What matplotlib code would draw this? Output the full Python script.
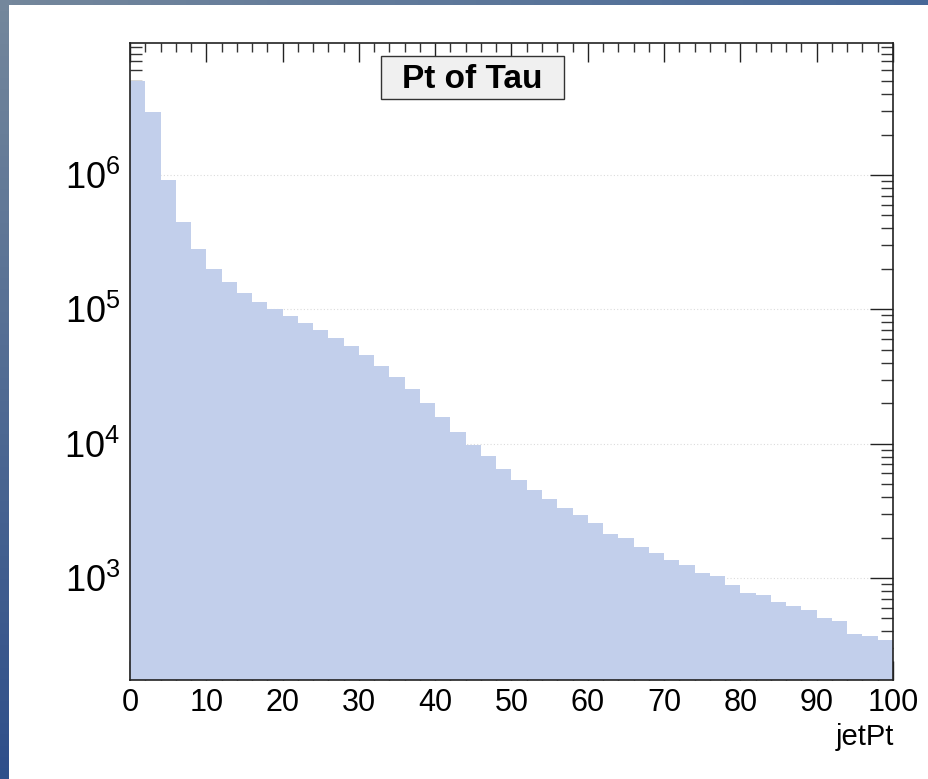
import numpy as np
import matplotlib.pyplot as plt
from matplotlib.patches import Rectangle
from matplotlib.ticker import FixedLocator, FixedFormatter, MultipleLocator, NullFormatter

plt.rcParams['mathtext.fontset'] = 'custom'
plt.rcParams['mathtext.rm'] = 'Liberation Sans Narrow'
plt.rcParams['font.family'] = ['Liberation Sans Narrow', 'Liberation Sans', 'DejaVu Sans']

# histogram of jetPt, 50 bins of width 2 from 0 to 100
bin_edges = np.arange(0, 102, 2)
counts = [5.0e6, 2.94e6, 9.2e5, 4.45e5, 2.8e5, 2.0e5, 1.6e5, 1.33e5, 1.14e5, 1.0e5,
          8.87e4, 7.94e4, 7.0e4, 6.13e4, 5.35e4, 4.54e4, 3.8e4, 3.15e4, 2.53e4, 2.01e4,
          1.58e4, 1.23e4, 9.8e3, 8.14e3, 6.52e3, 5.37e3, 4.53e3, 3.88e3, 3.33e3, 2.93e3,
          2.57e3, 2.14e3, 1.97e3, 1.70e3, 1.53e3, 1.37e3, 1.25e3, 1.08e3, 1.03e3, 892,
          773, 743, 659, 616, 582, 501, 479, 382, 369, 348]

x_ticks = [0, 10, 20, 30, 40, 50, 60, 70, 80, 90, 100]
y_ticks = [1e3, 1e4, 1e5, 1e6]
y_labels = [r'$\mathregular{10^{3}}$', r'$\mathregular{10^{4}}$',
            r'$\mathregular{10^{5}}$', r'$\mathregular{10^{6}}$']

W, H = 929, 779
fig = plt.figure(figsize=(W / 100, H / 100), dpi=100)

# slide-like gradient frame behind the canvas
bg = fig.add_axes([0, 0, 1, 1])
bg.set_axis_off()
U, V = np.meshgrid(np.linspace(0, 1, 80), np.linspace(0, 1, 70))
c0 = np.array([0x74, 0x87, 0x9c]) / 255
cr = np.array([0x47, 0x68, 0x98]) / 255
cb = np.array([0x2e, 0x4f, 0x8a]) / 255
grad = c0 + (cr - c0) * U[..., None] + (cb - c0) * V[..., None]
bg.imshow(np.clip(grad, 0, 1), extent=[0, 1, 0, 1], aspect='auto', origin='upper')
bg.add_patch(Rectangle((9 / W, 0), 1 - 9 / W, 1 - 5 / H, color='white', lw=0))
bg.set_xlim(0, 1)
bg.set_ylim(0, 1)

ax = fig.add_axes([130 / W, 99 / H, 763 / W, 637 / H])
ax.set_yscale('log')
ax.stairs(counts, bin_edges, fill=True, color='#c2cfeb', baseline=1, zorder=2, lw=0)
ax.set_xlim(0, 100)
ax.set_ylim(174, 9.6e6)

# faint dotted grid at decades
for yv in y_ticks:
    ax.axhline(yv, color='#dcdcdc', lw=0.8, ls=(0, (1, 2)), zorder=1)

ax.xaxis.set_major_locator(FixedLocator(x_ticks))
ax.xaxis.set_minor_locator(MultipleLocator(2))
ax.yaxis.set_major_locator(FixedLocator(y_ticks))
ax.yaxis.set_major_formatter(FixedFormatter(y_labels))
minor_y = [m * 10 ** e for e in range(2, 7) for m in range(2, 10)]
ax.yaxis.set_minor_locator(FixedLocator(minor_y))
ax.yaxis.set_minor_formatter(NullFormatter())

ax.tick_params(axis='x', which='major', direction='in', length=13.5, width=1,
               top=True, bottom=True, labelsize=22, pad=6, color='#222222')
ax.tick_params(axis='x', which='minor', direction='in', length=6.5, width=1,
               top=True, bottom=True, color='#333333')
ax.tick_params(axis='y', which='major', direction='in', length=16.5, width=1,
               left=True, right=True, labelsize=26, pad=7, color='#222222')
ax.tick_params(axis='y', which='minor', direction='in', length=8.5, width=1,
               left=True, right=True, color='#333333')
for s in ax.spines.values():
    s.set_linewidth(1.2)
    s.set_color('#222222')
    s.set_zorder(5)

# title box
fig.add_artist(Rectangle((381 / W, 1 - 99 / H), 183 / W, 43 / H, transform=fig.transFigure,
                         facecolor='#f0f0f0', edgecolor='#333333', lw=1, zorder=10))
fig.text(472.5 / W, 1 - 88 / H, 'Pt of Tau', ha='center', va='baseline', fontsize=24,
         fontweight='bold', family=['Liberation Sans', 'DejaVu Sans'], zorder=11)

fig.text(894 / W, 1 - 745 / H, 'jetPt', ha='right', va='baseline', fontsize=21,
         family=['Liberation Sans', 'DejaVu Sans'])

fig.savefig('out.png', dpi=100)
